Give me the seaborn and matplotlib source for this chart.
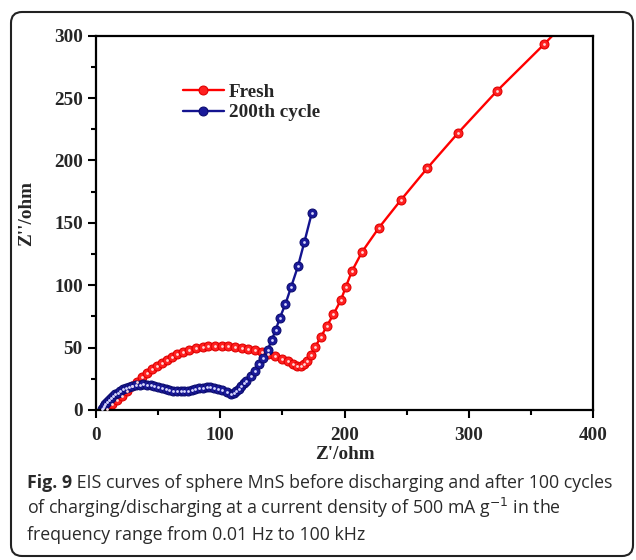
import matplotlib
matplotlib.use("Agg")
import matplotlib.pyplot as plt
import seaborn as sns
import pandas as pd
from matplotlib.patches import FancyBboxPatch
from matplotlib.ticker import MultipleLocator

# ---------------- data ----------------
fresh_x = [8.6, 12.6, 16.6, 20.7, 24.7, 28.7, 32.7, 36.8, 40.8, 44.8, 48.8, 52.9,
           56.9, 60.9, 65.5, 70.3, 75.1, 80.5, 85.9, 90.4, 95.8, 101.2, 106.5,
           111.9, 117.2, 122.6, 128.0, 133.3, 138.7, 144.1, 149.4, 154.8, 158.5,
           162.0, 165.0, 167.5, 170.0, 172.8, 176.2, 181.0, 185.7, 191.0, 197.0,
           201.0, 205.8, 214.0, 227.5, 245.0, 266.6, 291.0, 322.5, 360.6, 402.0]
fresh_y = [1.0, 4.5, 8.2, 11.6, 15.4, 19.2, 22.8, 26.2, 29.6, 32.6, 35.4, 38.0,
           40.4, 42.6, 44.7, 46.6, 48.2, 49.5, 50.5, 51.2, 51.6, 51.6, 51.3,
           50.7, 49.9, 48.9, 47.7, 46.3, 44.8, 43.0, 41.0, 39.0, 37.0,
           35.5, 35.3, 36.5, 39.5, 44.0, 50.5, 58.7, 67.3, 76.7, 88.2,
           98.8, 111.2, 126.7, 146.0, 168.0, 194.0, 221.8, 255.7, 293.3, 336.0]

cyc_x = [4.5, 5.5, 6.5, 7.5, 9.0, 10.5, 12.0, 13.5, 15.5, 17.5, 19.5, 21.5, 24.0,
         26.5, 29.0, 32.0, 35.0, 38.0, 41.0, 44.0, 47.0, 50.0, 53.0, 56.0, 59.0,
         62.0, 65.0, 68.0, 71.0, 74.0, 77.0, 80.0, 83.0, 86.0, 89.0, 92.0, 95.0,
         98.0, 101.5, 105.0, 108.5, 111.0, 113.0, 115.0, 117.0, 119.0, 121.0,
         125.0, 128.2, 131.5, 134.7, 138.0, 141.3, 144.5, 147.8, 152.4, 157.0,
         162.5, 167.7, 173.6]
cyc_y = [0.5, 2.0, 3.5, 5.0, 6.5, 8.0, 9.5, 11.0, 12.5, 14.0, 15.3, 16.5, 17.6,
         18.6, 19.4, 20.0, 20.4, 20.5, 20.3, 19.9, 19.3, 18.5, 17.6, 16.7, 15.9,
         15.3, 15.0, 15.0, 15.2, 15.6, 16.1, 16.7, 17.3, 17.8, 18.1, 18.1, 17.8,
         17.2, 16.0, 14.4, 12.9, 13.4, 15.3, 17.2, 19.3, 21.3, 23.3,
         27.3, 31.3, 36.7, 42.0, 48.0, 56.0, 64.0, 73.7, 85.0, 98.8,
         115.4, 135.0, 158.0]

series_labels = ["Fresh", "200th cycle"]
x_ticks = [0, 100, 200, 300, 400]
y_ticks = [0, 50, 100, 150, 200, 250, 300]
x_label = "Z'/ohm"
y_label = "Z''/ohm"
caption_bold = "Fig. 9"
caption_lines = [" EIS curves of sphere MnS before discharging and after 100 cycles",
                 "of charging/discharging at a current density of 500 mA g$^{-1}$ in the",
                 "frequency range from 0.01 Hz to 100 kHz"]

# ---------------- style ----------------
sns.set_theme(style="white")
plt.rcParams["font.family"] = ["Liberation Serif", "DejaVu Serif"]
plt.rcParams["axes.linewidth"] = 1.6

W, H = 636, 560
fig = plt.figure(figsize=(W / 100, H / 100), dpi=100)
fig.patch.set_facecolor("white")
ax = fig.add_axes([96 / W, 1 - 410 / H, (593.3 - 96) / W, (410 - 35.7) / H])
ax.set_facecolor("white")

red = "#ff0000"
navy = "#141490"

df_f = pd.DataFrame({"x": fresh_x, "y": fresh_y})
df_c = pd.DataFrame({"x": cyc_x, "y": cyc_y})

sns.lineplot(data=df_f, x="x", y="y", sort=False, estimator=None, ax=ax,
             color=red, lw=1.7, marker="o", markersize=6.4,
             markerfacecolor="#ff2020", markeredgecolor="#e00000",
             markeredgewidth=0.8, label=series_labels[0])
sns.lineplot(data=df_c, x="x", y="y", sort=False, estimator=None, ax=ax,
             color=navy, lw=1.7, marker="o", markersize=6.4,
             markerfacecolor="#1a1a9a", markeredgecolor="#0c0c70",
             markeredgewidth=0.8, label=series_labels[1])
# shiny highlights
sns.scatterplot(data=df_f, x="x", y="y", ax=ax, color="#ffd8d8", s=4,
                linewidth=0, legend=False, zorder=5)
sns.scatterplot(data=df_c, x="x", y="y", ax=ax, color="#d8d8ff", s=4,
                linewidth=0, legend=False, zorder=5)

ax.set_xlim(0, 400)
ax.set_ylim(0, 300)
ax.set_xticks(x_ticks)
ax.set_yticks(y_ticks)
ax.xaxis.set_minor_locator(MultipleLocator(50))
ax.yaxis.set_minor_locator(MultipleLocator(25))
tickfont = dict(family=["Liberation Serif"], weight="bold", size=13.8)
ax.set_xticklabels([str(v) for v in x_ticks], fontdict=tickfont)
ax.set_yticklabels([str(v) for v in y_ticks], fontdict=tickfont)
ax.tick_params(which="both", direction="out", color="black", width=1.5,
               bottom=True, left=True, top=False, right=False)
ax.tick_params(which="major", length=6)
ax.tick_params(which="minor", length=3.5)
ax.tick_params(axis="x", which="major", pad=6)
ax.tick_params(axis="y", which="major", pad=3.5)
for s in ax.spines.values():
    s.set_color("black")
    s.set_linewidth(1.6)

ax.set_xlabel(x_label, fontdict=tickfont)
ax.set_ylabel(y_label, fontdict=tickfont)
ax.xaxis.set_label_coords((345 - 96) / (593.3 - 96), (410 - 446) / (410 - 35.7))
ax.yaxis.set_label_coords((35 - 96) / (593.3 - 96), (410 - 214) / (410 - 35.7))

handles, labels = ax.get_legend_handles_labels()
leg = ax.legend(handles, labels, loc="center left",
                bbox_to_anchor=((182.7 - 96) / (593.3 - 96), (410 - 102.5) / (410 - 35.7)),
                frameon=False, borderpad=0, borderaxespad=0, handlelength=2.15,
                handletextpad=0.25, labelspacing=0.15,
                prop=dict(family=["Liberation Serif"], weight="bold", size=13.8))

# ---------------- outer rounded frame ----------------
box = FancyBboxPatch((11 / 100, (H - 556) / 100), (633 - 11) / 100, (556 - 12) / 100,
                     boxstyle="round,pad=0,rounding_size=0.11",
                     transform=fig.dpi_scale_trans, facecolor="none",
                     edgecolor="#222222", linewidth=1.5)
fig.patches.append(box)

# ---------------- caption ----------------
cfs = 12.75
ccol = "#2a2a2a"
cfam = ["Open Sans", "DejaVu Sans"]
x0 = 27 / W
base = [488, 514, 540]
t0 = fig.text(x0, 1 - base[0] / H, caption_bold, fontsize=cfs, fontweight="bold",
              family=cfam, color=ccol, va="baseline", ha="left")
fig.canvas.draw()
bb = t0.get_window_extent(fig.canvas.get_renderer())
fig.text(bb.x1 / W, 1 - base[0] / H, caption_lines[0], fontsize=cfs, family=cfam,
         color=ccol, va="baseline", ha="left")
for i in (1, 2):
    fig.text(x0, 1 - base[i] / H, caption_lines[i], fontsize=cfs, family=cfam,
             color=ccol, va="baseline", ha="left")

fig.savefig("out.png", dpi=100, facecolor="white")
